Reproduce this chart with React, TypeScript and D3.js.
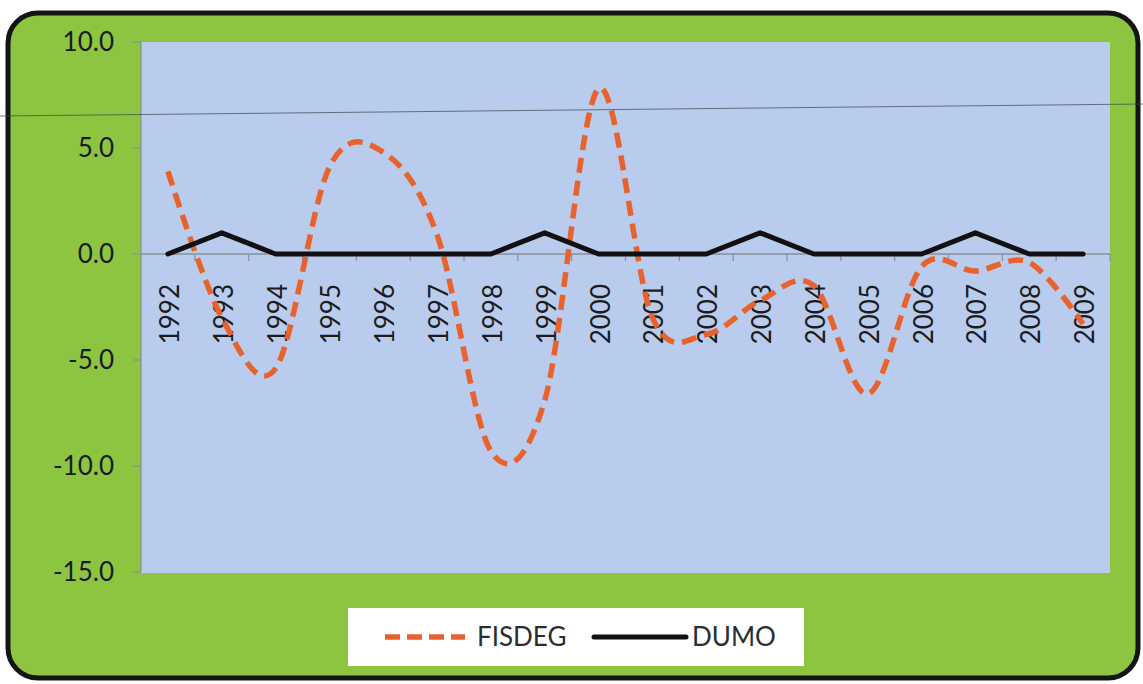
import React from "react";
import * as d3 from "d3";

const years = ["1992","1993","1994","1995","1996","1997","1998","1999","2000","2001","2002","2003","2004","2005","2006","2007","2008","2009"];
const fisdeg = [3.9, -3.0, -5.4, 4.1, 4.8, 0.9, -9.3, -6.9, 7.8, -3.0, -3.8, -2.2, -1.5, -6.6, -0.6, -0.8, -0.4, -3.3];
const dumo = [0, 1, 0, 0, 0, 0, 0, 1, 0, 0, 0, 1, 0, 0, 0, 1, 0, 0];
const yTicks = [10, 5, 0, -5, -10, -15];
const seriesNames = ["FISDEG", "DUMO"];

const W = 1143, H = 684;
const FONT = "Lato, 'Open Sans', sans-serif";

export default function App() {
  const x = d3.scaleBand<string>().domain(years).range([141, 1110]);
  const y = d3.scaleLinear().domain([-15, 10]).range([572, 42]);
  const cx = (i: number) => (x(years[i]) as number) + x.bandwidth() / 2;

  const smooth = d3.line<number>().x((_, i) => cx(i)).y(d => y(d)).curve(d3.curveCardinal.tension(0));
  const straight = d3.line<number>().x((_, i) => cx(i)).y(d => y(d));

  const boundaries = years.map(yr => x(yr) as number).slice(1).concat([1110]);

  return (
    <svg width={W} height={H} style={{ position: "absolute", left: 0, top: 0, background: "#ffffff" }}>
      <defs>
        <clipPath id="plotclip">
          <rect x={141} y={42} width={969} height={531} />
        </clipPath>
      </defs>
      <rect x={0} y={0} width={W} height={H} fill="#ffffff" />
      <rect x={8} y={13} width={1130} height={665} rx={30} ry={30} fill="#8dc541" stroke="#141414" strokeWidth={5} />
      <rect x={141} y={42} width={969} height={531} fill="#b9cced" />

      {/* y axis */}
      <line x1={141} x2={141} y1={42} y2={572} stroke="#8a8f99" strokeWidth={1.2} />
      {yTicks.map(t => (
        <g key={t}>
          <line x1={133} x2={141} y1={y(t)} y2={y(t)} stroke="#8a8f99" strokeWidth={1.2} />
          <text x={114} y={y(t)} dy="0.35em" textAnchor="end" fontFamily={FONT} fontSize={26} fill="#1a1c20">{t.toFixed(1)}</text>
        </g>
      ))}

      {/* x axis at zero */}
      <line x1={141} x2={1110} y1={y(0)} y2={y(0)} stroke="#8a8f99" strokeWidth={1.5} />
      {boundaries.map((b, i) => (
        <line key={i} x1={b} x2={b} y1={y(0)} y2={y(0) + 7} stroke="#8a8f99" strokeWidth={1.2} />
      ))}
      {years.map((yr, i) => (
        <text key={yr} transform={`translate(${cx(i) + 11},${284}) rotate(-90)`} textAnchor="end" fontFamily={FONT} fontSize={26} fill="#1a1c20">{yr}</text>
      ))}

      <g clipPath="url(#plotclip)">
        <path d={smooth(fisdeg) ?? ""} fill="none" stroke="#e8622e" strokeWidth={5.5} strokeDasharray="15 8" />
        <path d={straight(dumo) ?? ""} fill="none" stroke="#111111" strokeWidth={5} strokeLinejoin="round" strokeLinecap="round" />
      </g>

      {/* scan artifact line */}
      <line x1={0} y1={116} x2={W} y2={104} stroke="#3c4650" strokeWidth={1} opacity={0.7} />

      {/* legend */}
      <rect x={348} y={608} width={456} height={58} fill="#ffffff" />
      <line x1={385} x2={465} y1={637} y2={637} stroke="#e8622e" strokeWidth={5.5} strokeDasharray="15 7" />
      <text x={477} y={637} dy="0.35em" fontFamily={FONT} fontSize={26} fill="#2a2d33">{seriesNames[0]}</text>
      <line x1={594} x2={686} y1={637} y2={637} stroke="#111111" strokeWidth={5} strokeLinecap="round" />
      <text x={692} y={637} dy="0.35em" fontFamily={FONT} fontSize={26} fill="#2a2d33">{seriesNames[1]}</text>
    </svg>
  );
}
